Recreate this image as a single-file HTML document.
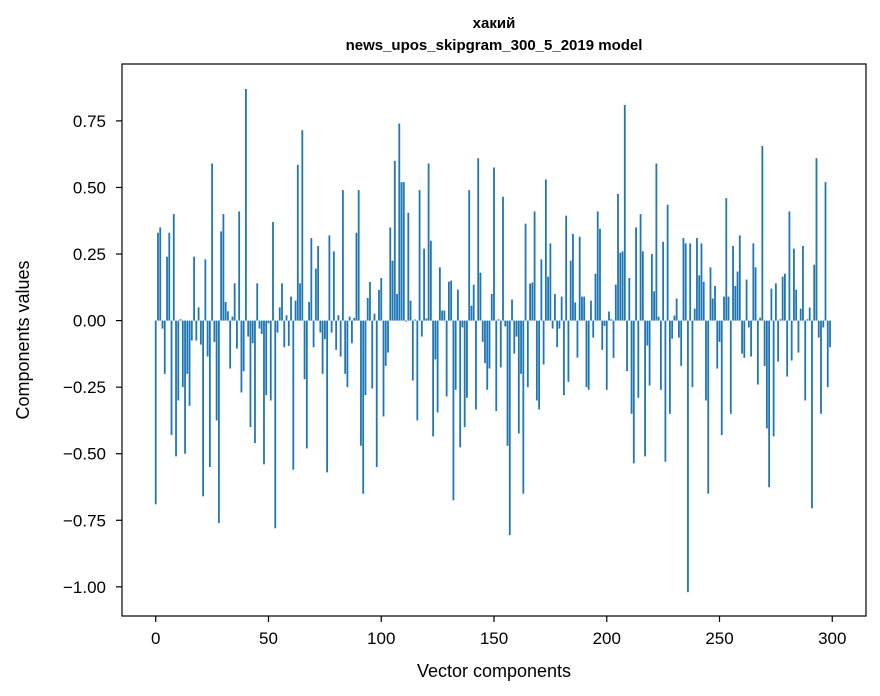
<!DOCTYPE html>
<html><head><meta charset="utf-8"><style>
html,body{margin:0;padding:0;background:#fff;}
svg{display:block;font-family:"Liberation Sans","DejaVu Sans",sans-serif;}
</style></head><body>
<svg id="chart" width="880" height="696" viewBox="0 0 880 696">
<text x="494" y="28" text-anchor="middle" font-size="15" font-weight="bold">хакий</text>
<text x="494" y="50" text-anchor="middle" font-size="15" font-weight="bold">news_upos_skipgram_300_5_2019 model</text>
<g id="bars"></g>
<g id="axes"></g>
<rect x="122" y="64" width="744" height="552" fill="none" stroke="#000" stroke-width="1.2"/>
<text x="494" y="677" text-anchor="middle" font-size="18">Vector components</text>
<text transform="translate(29,340) rotate(-90)" text-anchor="middle" font-size="18">Components values</text>
</svg>
<script>
const values = [
-0.69,0.33,0.35,-0.03,-0.20,0.24,0.33,-0.43,0.40,-0.51,-0.30,0.005,-0.25,-0.50,-0.20,-0.32,-0.075,0.24,-0.075,0.05,
-0.09,-0.66,0.23,-0.135,-0.55,0.59,-0.08,-0.375,-0.76,0.335,0.40,0.07,0.035,-0.18,0.015,0.14,-0.105,0.41,-0.27,-0.19,
0.87,-0.06,-0.40,-0.085,-0.46,0.14,-0.03,-0.05,-0.54,
-0.28,-0.01,-0.30,0.37,-0.78,-0.045,0.05,0.14,-0.10,0.02,-0.095,0.09,-0.56,0.075,0.585,0.14,0.715,-0.22,-0.48,0.07,0.31,
-0.10,0.195,0.28,-0.045,-0.20,-0.07,-0.57,0.32,-0.045,0.26,-0.11,0.02,-0.135,0.49,-0.20,-0.25,0.015,-0.085,0.01,0.33,
0.49,-0.47,-0.65,-0.28,0.085,0.145,-0.255,0.026,-0.55,
0.115,0.16,-0.36,-0.17,-0.12,0.35,0.225,0.60,0.10,0.74,0.52,0.52,-0.004,0.405,0.075,-0.225,0.004,-0.375,0.49,-0.06,
0.27,0.008,0.59,0.30,-0.435,-0.146,-0.345,0.20,0.0375,0.0375,-0.285,0.146,0.15,-0.675,-0.26,0.116,-0.476,-0.026,-0.40,-0.29,
0.49,0.056,0.135,-0.334,0.61,0.18,-0.08,-0.16,-0.26,
-0.18,0.10,0.575,-0.34,0.005,-0.176,0.465,-0.022,-0.47,-0.806,0.079,-0.124,-0.06,-0.424,-0.20,-0.65,0.364,-0.25,0.139,0.143,
0.41,-0.30,-0.334,0.23,-0.165,0.53,0.165,0.29,-0.03,0.10,-0.10,-0.03,0.09,-0.28,0.394,-0.23,0.225,0.326,0.068,-0.139,
0.315,0.09,0.09,-0.25,-0.26,0.075,-0.064,0.176,0.41,0.345,
-0.11,-0.02,-0.26,0.034,0.005,-0.14,0.135,0.476,0.255,0.26,0.81,-0.19,0.16,-0.35,-0.536,0.35,-0.29,0.40,0.26,-0.51,
-0.094,-0.244,0.25,0.11,0.59,0.015,-0.26,0.296,-0.53,0.435,-0.35,-0.068,0.019,0.083,-0.064,-0.17,0.31,0.29,-1.02,0.29,
-0.25,0.045,0.31,0.17,0.29,0.146,-0.30,-0.65,0.20,0.083,
0.13,-0.18,-0.08,-0.43,0.09,0.46,0.09,-0.35,0.28,0.13,0.184,0.32,-0.124,-0.14,0.154,-0.026,-0.135,0.29,0.20,-0.24,
0.011,0.656,-0.17,-0.405,-0.626,0.12,-0.435,0.14,-0.154,0.005,0.165,0.176,-0.21,0.41,-0.15,0.27,0.116,-0.12,0.045,0.28,
-0.30,0.005,0.049,-0.705,0.21,0.61,-0.064,-0.35,-0.026,0.52,-0.25,-0.10
];
const xTicks = [0,50,100,150,200,250,300];
const yTicks = [-1.00,-0.75,-0.50,-0.25,0.00,0.25,0.50,0.75];

const NS = "http://www.w3.org/2000/svg";
const PX0 = 122, PX1 = 866, PY0 = 64, PY1 = 616;
const XMIN = -14.96, XMAX = 314.96, YMIN = -1.1095, YMAX = 0.9637;
function xs(v){ return PX0 + (v - XMIN) / (XMAX - XMIN) * (PX1 - PX0); }
function ys(v){ return PY1 - (v - YMIN) / (YMAX - YMIN) * (PY1 - PY0); }

const barsG = document.getElementById('bars');
const bw = xs(0.8) - xs(0);
values.forEach(function(v, i){
  const r = document.createElementNS(NS, 'rect');
  const y0 = ys(0), y1 = ys(v);
  r.setAttribute('x', xs(i - 0.4));
  r.setAttribute('width', bw);
  r.setAttribute('y', Math.min(y0, y1));
  r.setAttribute('height', Math.max(Math.abs(y1 - y0), 0.3));
  r.setAttribute('fill', '#1f77b4');
  
  
  barsG.appendChild(r);
});

const axesG = document.getElementById('axes');
xTicks.forEach(function(t){
  const x = xs(t);
  const l = document.createElementNS(NS, 'line');
  l.setAttribute('x1', x); l.setAttribute('x2', x);
  l.setAttribute('y1', PY1); l.setAttribute('y2', PY1 + 6);
  l.setAttribute('stroke', '#000'); l.setAttribute('stroke-width', '1.2');
  
  
  axesG.appendChild(l);
  const tx = document.createElementNS(NS, 'text');
  tx.setAttribute('x', x); tx.setAttribute('y', PY1 + 28);
  tx.setAttribute('text-anchor', 'middle'); tx.setAttribute('font-size', '17');
  tx.textContent = String(t);
  
  
  axesG.appendChild(tx);
});
yTicks.forEach(function(t){
  const y = ys(t);
  const l = document.createElementNS(NS, 'line');
  l.setAttribute('x1', PX0 - 6); l.setAttribute('x2', PX0);
  l.setAttribute('y1', y); l.setAttribute('y2', y);
  l.setAttribute('stroke', '#000'); l.setAttribute('stroke-width', '1.2');
  
  
  axesG.appendChild(l);
  const tx = document.createElementNS(NS, 'text');
  tx.setAttribute('x', PX0 - 16); tx.setAttribute('y', y + 6);
  tx.setAttribute('text-anchor', 'end'); tx.setAttribute('font-size', '17');
  tx.textContent = (t < 0 ? '\u2212' : '') + Math.abs(t).toFixed(2);
  
  
  axesG.appendChild(tx);
});
</script>
</body></html>
